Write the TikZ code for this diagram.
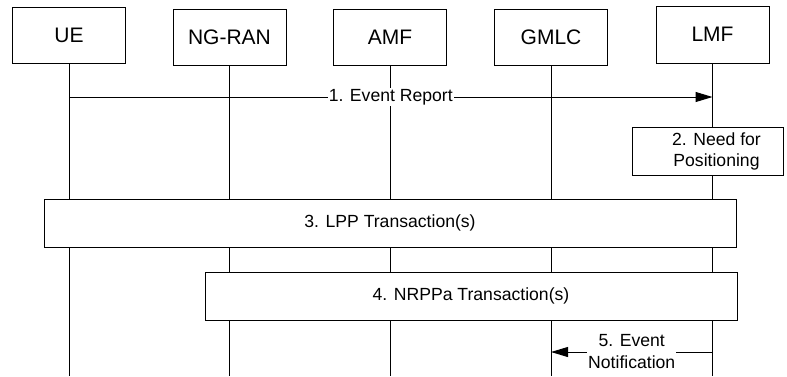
\documentclass[tikz,border=0pt]{standalone}
\usepackage{fontspec}
\setmainfont{Liberation Sans}
\usetikzlibrary{arrows.meta}
\begin{document}
\begin{tikzpicture}[x=1pt,y=-1pt,line width=1pt,
  actor/.style={draw,fill=white,minimum width=113pt,minimum height=56pt,inner sep=0pt,font=\fontsize{21}{25}\selectfont},
  stepbox/.style={draw,fill=white,minimum height=48pt,inner sep=0pt,font=\fontsize{17.6}{21}\selectfont,align=center},
  msglabel/.style={fill=white,inner xsep=1pt,inner ysep=1pt,font=\fontsize{17.6}{22}\selectfont,align=center},
  msg/.style={-{Triangle[length=17pt,width=10pt]}},
  life/.style={line width=1pt}]
\useasboundingbox (0,0) rectangle (787,376);
% actors
\node[actor] (ue) at (69,35) {UE};
\node[actor] (ran) at (229.5,37) {NG-RAN};
\node[actor] (amf) at (390,37) {AMF};
\node[actor] (gmlc) at (551,37) {GMLC};
\node[actor,minimum height=57pt] (lmf) at (712.5,34.5) {LMF};
% helper coordinates
\coordinate (bot) at (0,376);
\coordinate (y1) at (0,97);
\coordinate (y5) at (0,352);
% lifelines
\foreach \a in {ue,ran,amf,gmlc,lmf}
  \draw[life] (\a.south) -- (\a.south |- bot);
% 1. Event Report
\draw[msg] (ue.south |- y1) -- node[msglabel]{1. Event Report} (lmf.south |- y1);
% 2. Need for Positioning
\node[stepbox,minimum width=151pt,label={[font=\fontsize{17.6}{21}\selectfont,align=center,xshift=9pt]center:{2. Need for\\Positioning}}] (need) at (707.5,151) {};
% 3. LPP
\node[stepbox,minimum width=692pt] (lpp) at (390,223) {3. LPP Transaction(s)};
% 4. NRPPa
\node[stepbox,minimum width=532pt] (nrppa) at (471,296) {4. NRPPa Transaction(s)};
% 5. Event Notification
\draw[msg] (lmf.south |- y5) -- node[msglabel]{5. Event\\Notification} (gmlc.south |- y5);
\end{tikzpicture}
\end{document}
